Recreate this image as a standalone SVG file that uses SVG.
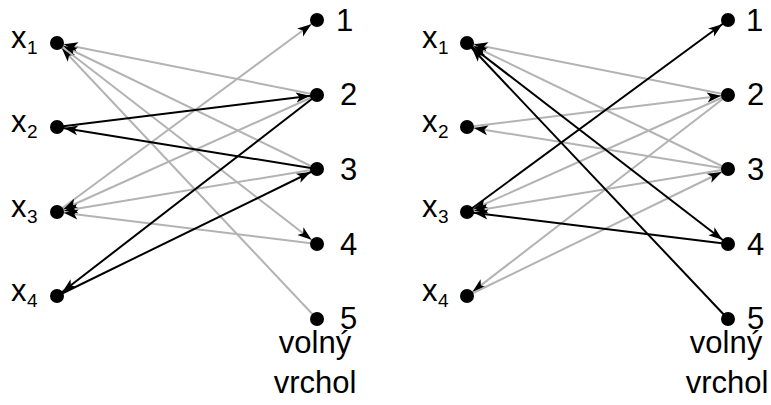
<svg xmlns="http://www.w3.org/2000/svg" width="771" height="405" viewBox="0 0 771 405">
<style>
.n{fill:#000}
.t{font-family:"Liberation Sans",Arial,sans-serif;font-size:31px;fill:#000}
.s{font-family:"Liberation Sans",Arial,sans-serif;font-size:19px;fill:#000}
.c{text-anchor:middle}
.g{stroke:#b3b3b3;stroke-width:2;fill:none;marker-end:url(#ag)}
.b{stroke:#000;stroke-width:2;fill:none;marker-end:url(#ab)}
</style>
<defs>
<marker id="ag" markerUnits="userSpaceOnUse" markerWidth="14" markerHeight="10" refX="21" refY="5" orient="auto" overflow="visible"><path d="M0,0 L14,5 L0,10 L3.5,5 z" fill="#000"/></marker>
<marker id="ab" markerUnits="userSpaceOnUse" markerWidth="14" markerHeight="10" refX="21" refY="5" orient="auto" overflow="visible"><path d="M0,0 L14,5 L0,10 L3.5,5 z" fill="#000"/></marker>
</defs>
<rect width="771" height="405" fill="#fff"/>
<g id="connectors">
<line class="g" x1="317" y1="95" x2="57" y2="43"/>
<line class="g" x1="317" y1="169" x2="57" y2="43"/>
<line class="g" x1="317" y1="319" x2="57" y2="43"/>
<line class="g" x1="57" y1="43" x2="317" y2="244"/>
<line class="g" x1="57" y1="212" x2="317" y2="20"/>
<line class="g" x1="317" y1="95" x2="57" y2="212"/>
<line class="g" x1="317" y1="169" x2="57" y2="212"/>
<line class="g" x1="317" y1="244" x2="57" y2="212"/>
<line class="b" x1="57" y1="127" x2="317" y2="95"/>
<line class="b" x1="317" y1="169" x2="57" y2="127"/>
<line class="b" x1="317" y1="95" x2="57" y2="296"/>
<line class="b" x1="57" y1="296" x2="317" y2="169"/>
<line class="g" x1="728" y1="95" x2="467" y2="43"/>
<line class="g" x1="728" y1="169" x2="467" y2="43"/>
<line class="g" x1="467" y1="127" x2="728" y2="95"/>
<line class="g" x1="728" y1="169" x2="467" y2="127"/>
<line class="g" x1="728" y1="95" x2="467" y2="212"/>
<line class="g" x1="728" y1="169" x2="467" y2="212"/>
<line class="g" x1="728" y1="95" x2="467" y2="296"/>
<line class="g" x1="467" y1="296" x2="728" y2="169"/>
<line class="b" x1="467" y1="212" x2="728" y2="20"/>
<line class="b" x1="467" y1="43" x2="728" y2="244"/>
<line class="b" x1="728" y1="319" x2="467" y2="43"/>
<line class="b" x1="728" y1="244" x2="467" y2="212"/>
</g>
<g id="L-x1"><circle class="n" cx="57" cy="43" r="7"/><text class="t" x="11" y="48">x</text><text class="s" x="27" y="54">1</text></g>
<g id="L-x2"><circle class="n" cx="57" cy="127" r="7"/><text class="t" x="11" y="132">x</text><text class="s" x="27" y="138">2</text></g>
<g id="L-x3"><circle class="n" cx="57" cy="212" r="7"/><text class="t" x="11" y="217">x</text><text class="s" x="27" y="223">3</text></g>
<g id="L-x4"><circle class="n" cx="57" cy="296" r="7"/><text class="t" x="11" y="301">x</text><text class="s" x="27" y="307">4</text></g>
<g id="L-1"><circle class="n" cx="317" cy="20" r="7"/><text class="t" x="336" y="31">1</text></g>
<g id="L-2"><circle class="n" cx="317" cy="95" r="7"/><text class="t" x="340" y="105">2</text></g>
<g id="L-3"><circle class="n" cx="317" cy="169" r="7"/><text class="t" x="340" y="180">3</text></g>
<g id="L-4"><circle class="n" cx="317" cy="244" r="7"/><text class="t" x="340" y="255">4</text></g>
<g id="L-5"><circle class="n" cx="317" cy="319" r="7"/><text class="t" x="340" y="329">5</text><text class="t c" x="315" y="353">volný</text><text class="t c" x="315" y="393">vrchol</text></g>
<g id="R-x1"><circle class="n" cx="467" cy="43" r="7"/><text class="t" x="422" y="48">x</text><text class="s" x="438" y="54">1</text></g>
<g id="R-x2"><circle class="n" cx="467" cy="127" r="7"/><text class="t" x="422" y="132">x</text><text class="s" x="438" y="138">2</text></g>
<g id="R-x3"><circle class="n" cx="467" cy="212" r="7"/><text class="t" x="422" y="217">x</text><text class="s" x="438" y="223">3</text></g>
<g id="R-x4"><circle class="n" cx="467" cy="296" r="7"/><text class="t" x="422" y="301">x</text><text class="s" x="438" y="307">4</text></g>
<g id="R-1"><circle class="n" cx="728" cy="20" r="7"/><text class="t" x="746" y="31">1</text></g>
<g id="R-2"><circle class="n" cx="728" cy="95" r="7"/><text class="t" x="747" y="105">2</text></g>
<g id="R-3"><circle class="n" cx="728" cy="169" r="7"/><text class="t" x="747" y="180">3</text></g>
<g id="R-4"><circle class="n" cx="728" cy="244" r="7"/><text class="t" x="747" y="255">4</text></g>
<g id="R-5"><circle class="n" cx="728" cy="319" r="7"/><text class="t" x="747" y="329">5</text><text class="t c" x="726" y="353">volný</text><text class="t c" x="727" y="393">vrchol</text></g>
</svg>
